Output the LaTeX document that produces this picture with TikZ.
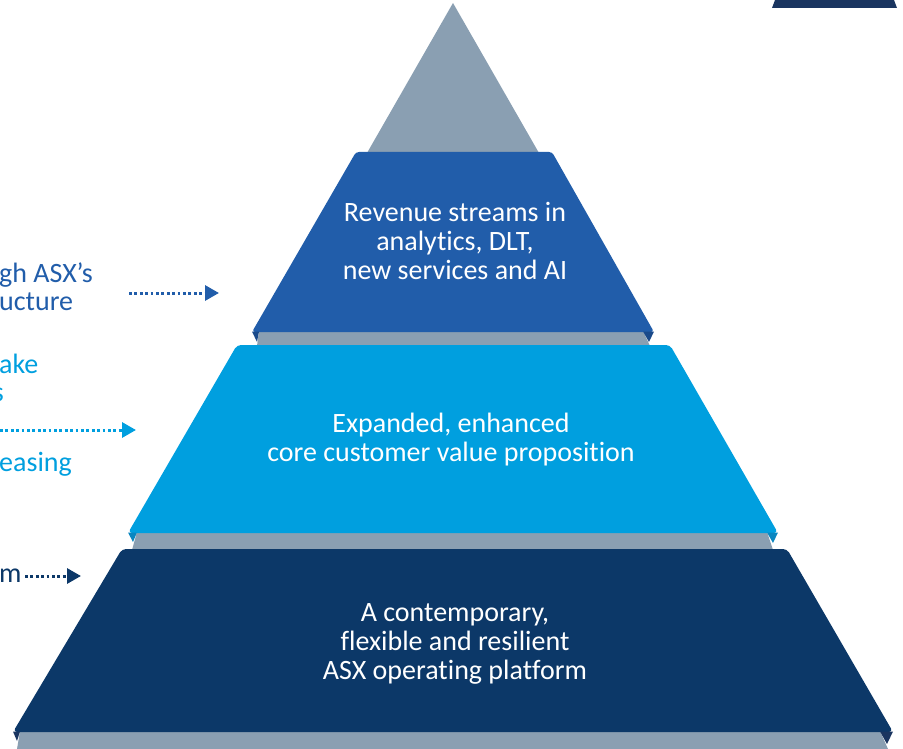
\documentclass[tikz,border=0pt]{standalone}
\usepackage{fontspec}
\setmainfont{Carlito}[Ligatures=NoCommon]
\usetikzlibrary{arrows.meta}
\definecolor{pgray}{HTML}{8A9FB2}
\definecolor{pblue}{HTML}{215DAA}
\definecolor{pbluedk}{HTML}{1A4A8A}
\definecolor{plight}{HTML}{009FDF}
\definecolor{plightdk}{HTML}{0A86C0}
\definecolor{pnavy}{HTML}{0C3868}
\definecolor{pnavydk}{HTML}{1A3560}
\tikzset{
  layertext/.style={text=white, font=\fontsize{28}{29}\selectfont, align=center},
  sidetext/.style={font=\fontsize{28}{29}\selectfont, anchor=west, inner sep=0pt},
  dotarrow/.style={line width=3pt, dash pattern=on 2.8pt off 2.6pt, -{Triangle[length=14pt,width=15pt]}},
}
\begin{document}
\begin{tikzpicture}[x=1pt,y=-1pt]
\useasboundingbox (0,0) rectangle (903,749);
\clip (0,0) rectangle (903,749);
% top-right corner element
\fill[pnavydk] (775,0) -- (894,0) -- (897,8) -- (772,8) -- cycle;
% apex triangle
\fill[pgray] (453,3) -- (539,153) -- (367,153) -- cycle;
% layer 2
\fill[pgray] (259,331) -- (643,331) -- (650,346) -- (257,346) -- cycle;
\fill[pblue, rounded corners=3pt] (356,152) -- (552,152) -- (654,332) -- (252,332) -- cycle;
\fill[pbluedk] (252,331.5) -- (259,331.5) -- (257,342) -- cycle;
\fill[pbluedk] (654,331.5) -- (643,331.5) -- (649,342) -- cycle;
% layer 3
\fill[pgray] (137,532) -- (767,532) -- (773,550) -- (132,550) -- cycle;
\fill[plight, rounded corners=4pt] (237,345) -- (670,345) -- (778,533) -- (128,533) -- cycle;
\fill[plightdk] (128,532.5) -- (137,532.5) -- (133,542) -- cycle;
\fill[plightdk] (778,532.5) -- (767,532.5) -- (773,543) -- cycle;
% layer 4
\fill[pgray] (20,731) -- (880,731) -- (888,749) -- (17,749) -- cycle;
\fill[pnavy, rounded corners=4pt] (122,549) -- (787,549) -- (893,732) -- (13,732) -- cycle;
\fill[pnavydk] (13,731.5) -- (20,731.5) -- (17,741) -- cycle;
\fill[pnavydk] (893,731.5) -- (880,731.5) -- (887,744) -- cycle;
% layer texts
\node[layertext] (t2) at (455,241) {Revenue streams in\\analytics, DLT,\\new services and AI};
\node[layertext] (t3) at (451,440) {Expanded, enhanced\\core customer value proposition};
\node[layertext] (t4) at (455,644) {A contemporary,\\flexible and resilient\\ASX operating platform};
% side texts (cut off at the left edge)
\node[sidetext, text=pblue] (s1a) at (-1,275) {gh ASX’s};
\node[sidetext, text=pblue] (s1b) at (-1,302) {ucture};
\node[sidetext, text=plight] (s2a) at (-1,364) {ake};
\node[sidetext, text=plight, anchor=east] (s2b) at (4,395) {s};
\node[sidetext, text=plight] (s2c) at (-1,464) {easing};
\node[sidetext, text=pnavy] (s3) at (-1,576) {m};
% dotted arrows
\coordinate (a1s) at (129,293); \coordinate (a1e) at (219,293);
\coordinate (a2s) at (0,430);   \coordinate (a2e) at (136,430);
\coordinate (a3s) at (25,576);  \coordinate (a3e) at (81,576);
\draw[dotarrow, pblue] (a1s) -- (a1e);
\draw[dotarrow, plight] (a2s) -- (a2e);
\draw[dotarrow, pnavy] (a3s) -- (a3e);
\end{tikzpicture}
\end{document}
